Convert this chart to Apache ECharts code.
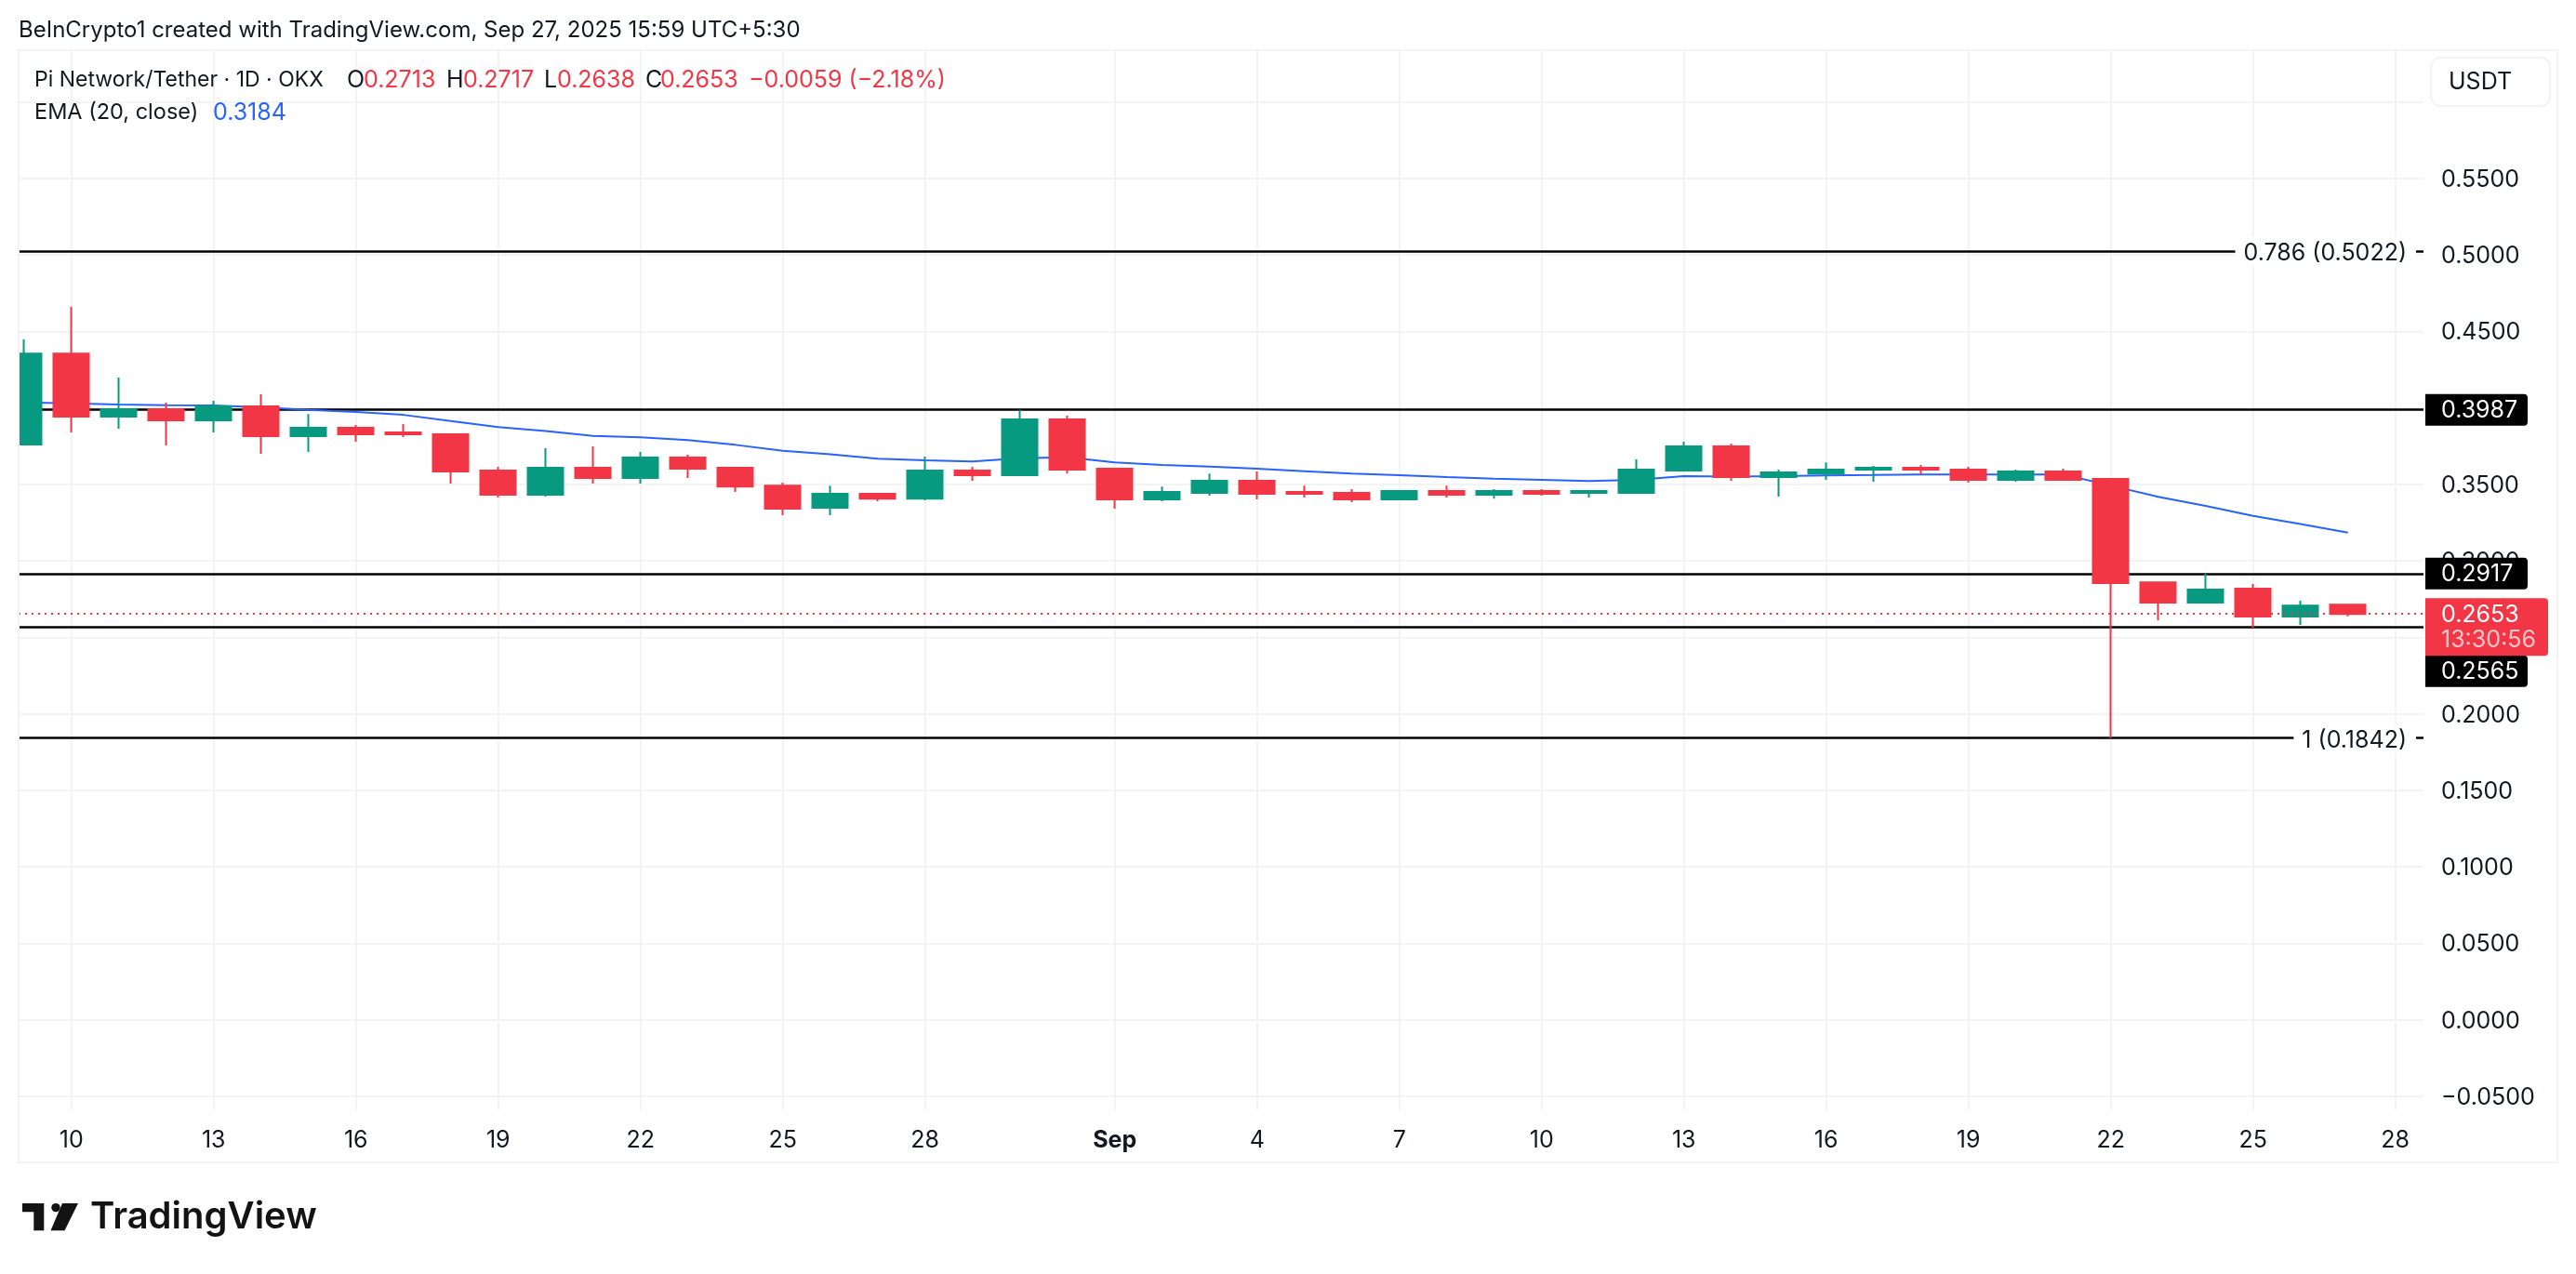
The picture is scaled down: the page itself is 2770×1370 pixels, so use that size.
<!DOCTYPE html>
<html>
<head>
<meta charset="utf-8">
<title>Pi Network/Tether</title>
<script src="https://cdn.jsdelivr.net/npm/echarts@6/dist/echarts.min.js"></script>
<style>
html,body{margin:0;padding:0;background:#fff}
#main{width:2770px;height:1370px}
</style>
</head>
<body>
<div id="main"></div>
<script>
var dates = ['2025-08-09','2025-08-10','2025-08-11','2025-08-12','2025-08-13','2025-08-14','2025-08-15','2025-08-16','2025-08-17','2025-08-18',
  '2025-08-19','2025-08-20','2025-08-21','2025-08-22','2025-08-23','2025-08-24','2025-08-25','2025-08-26','2025-08-27','2025-08-28',
  '2025-08-29','2025-08-30','2025-08-31','2025-09-01','2025-09-02','2025-09-03','2025-09-04','2025-09-05','2025-09-06','2025-09-07',
  '2025-09-08','2025-09-09','2025-09-10','2025-09-11','2025-09-12','2025-09-13','2025-09-14','2025-09-15','2025-09-16','2025-09-17',
  '2025-09-18','2025-09-19','2025-09-20','2025-09-21','2025-09-22','2025-09-23','2025-09-24','2025-09-25','2025-09-26','2025-09-27'];
var opens = [.3760,.4355,.3942,.3991,.3918,.4009,.3815,.3869,.3839,.3827,
  .3590,.3432,.3608,.3541,.3675,.3608,.3492,.3347,.3438,.3407,
  .3590,.3559,.3924,.3602,.3401,.3444,.3523,.3450,.3444,.3401,
  .3456,.3432,.3456,.3444,.3444,.3590,.3748,.3547,.3571,.3596,
  .3608,.3596,.3529,.3584,.3535,.2860,.2727,.2818,.2636,.2713];
var closes = [.4355,.3942,.3991,.3918,.4009,.3815,.3869,.3827,.3827,.3584,
  .3432,.3608,.3541,.3675,.3602,.3486,.3341,.3438,.3407,.3590,
  .3559,.3924,.3596,.3401,.3450,.3523,.3438,.3438,.3401,.3456,
  .3432,.3456,.3438,.3456,.3596,.3748,.3547,.3578,.3596,.3608,
  .3596,.3529,.3584,.3529,.2854,.2727,.2812,.2636,.2708,.2653];
var lows = [.3760,.3839,.3863,.3754,.3839,.3699,.3711,.3778,.3809,.3505,
  .3414,.3420,.3505,.3505,.3541,.3450,.3298,.3298,.3389,.3395,
  .3523,.3559,.3571,.3341,.3389,.3426,.3401,.3414,.3383,.3401,
  .3414,.3407,.3426,.3414,.3444,.3590,.3523,.3420,.3529,.3517,
  .3565,.3511,.3517,.3523,.1842,.2611,.2727,.2563,.2581,.2638];
var highs = [.4447,.4659,.4198,.4033,.4046,.4088,.3960,.3888,.3894,.3833,
  .3614,.3736,.3748,.3711,.3693,.3614,.3511,.3492,.3444,.3681,
  .3614,.3986,.3948,.3608,.3486,.3571,.3584,.3492,.3468,.3462,
  .3492,.3468,.3468,.3462,.3663,.3778,.3766,.3596,.3644,.3620,
  .3626,.3614,.3596,.3602,.3541,.2860,.2917,.2848,.2739,.2717];
var ema20 = [.4035,.4029,.4021,.4017,.4015,.4003,.3987,.3973,.3954,.3914,
  .3874,.3849,.3816,.3807,.3789,.3758,.3719,.3697,.3667,.3657,
  .3649,.3671,.3677,.3643,.3626,.3616,.3602,.3586,.3570,.3559,
  .3547,.3537,.3529,.3521,.3529,.3553,.3551,.3553,.3558,.3561,
  .3565,.3564,.3564,.3564,.3492,.3418,.3359,.3294,.3241,.3184];
var fibLabelled = [[.5022,'0.786 (0.5022)'],[.1842,'1 (0.1842)']];
var fibTagged = [.3987,.2917,.2565];
var lastPrice = .2653;
var priceTicks = [-.05,0,.05,.1,.15,.2,.25,.3,.35,.4,.45,.5,.55,.6];
var dayTicks = ['2025-08-10','2025-08-13','2025-08-16','2025-08-19','2025-08-22','2025-08-25','2025-08-28',
  '2025-09-01','2025-09-04','2025-09-07','2025-09-10','2025-09-13','2025-09-16','2025-09-19','2025-09-22','2025-09-25','2025-09-28'];

var UP = '#089981', DOWN = '#F23645', BLUE = '#2962FF', INK = '#131722', GRID = '#F3F3F4';
var FONT = 'Inter';
var DAY = 86400000;
var aug10 = Date.parse('2025-08-10');
var dayValues = dayTicks.map(function (d) { return Date.parse(d); });

var myChart = echarts.init(document.getElementById('main'));

var levelLines = fibTagged.map(function (v) {
  return { yAxis: v, label: { show: false } };
}).concat(fibLabelled.map(function (f) {
  return { yAxis: f[0], label: {
    show: true, position: 'insideEnd', distance: 8, formatter: '{a|' + f[1] + '}',
    backgroundColor: '#fff', padding: [1, 10, 1, 9],
    rich: { a: { color: INK, fontFamily: FONT, fontSize: 25, padding: [5, 0, 0, 0] } }
  } };
}));

var option = {
  animation: false,
  backgroundColor: '#fff',
  grid: { left: 20, right: 164, top: 54, bottom: 177 },
  xAxis: {
    type: 'value',
    min: aug10 - 1.112 * DAY,
    max: aug10 + 49.594 * DAY,
    axisLine: { show: false },
    axisTick: { show: false, customValues: dayValues },
    splitLine: { show: true, lineStyle: { color: GRID, width: 2 } },
    axisLabel: {
      customValues: dayValues,
      margin: 21, color: INK, fontFamily: FONT, fontSize: 25, hideOverlap: false,
      formatter: function (v) {
        var d = new Date(v).getUTCDate();
        return d === 1 ? '{b|Sep}' : String(d);
      },
      rich: { b: { fontFamily: FONT, fontSize: 25, fontWeight: 700, color: INK } }
    }
  },
  yAxis: {
    type: 'value',
    position: 'right',
    min: -.0585,
    max: .6337,
    axisLine: { show: false },
    axisTick: { show: false, customValues: priceTicks },
    splitLine: { show: true, lineStyle: { color: GRID, width: 2 } },
    axisLabel: {
      customValues: priceTicks,
      inside: false, margin: 19, align: 'left',
      formatter: function (v) {
        if (v > .58) return '';   // hidden behind the USDT button in the original
        return '{a|' + v.toFixed(4).replace('-', '\u2212') + '}';
      },
      rich: { a: { color: INK, fontFamily: FONT, fontSize: 25, padding: [3, 0, 0, 0] } }
    }
  },
  series: [
    {
      name: 'Levels', type: 'line', data: [], z: 1,
      markLine: {
        z: 1, silent: true, symbol: 'none', animation: false, precision: 4,
        lineStyle: { color: '#000', width: 2.5, type: 'solid' },
        data: levelLines
      }
    },
    {
      name: 'EMA (20, close)', type: 'line', z: 3, showSymbol: false, smooth: false,
      lineStyle: { color: BLUE, width: 2 },
      data: dates.map(function (d, i) { return [Date.parse(d), ema20[i]]; })
    },
    {
      name: 'Pi Network/Tether', type: 'candlestick', z: 4, barWidth: 38,
      itemStyle: { color: UP, color0: DOWN, borderColor: UP, borderColor0: DOWN, borderWidth: 2 },
      data: dates.map(function (d, i) { return [Date.parse(d), opens[i], closes[i], lows[i], highs[i]]; }),
      markLine: {
        z: 5, silent: true, symbol: 'none', animation: false, label: { show: false }, precision: 4,
        lineStyle: { color: DOWN, width: 2, type: [2, 5] },
        data: [{ yAxis: lastPrice }]
      }
    }
  ]
};
myChart.setOption(option);

function txt(x, y, text, color, size, weight) {
  return { type: 'text', x: x, y: y, z: 50, style: {
    text: text, fill: color, fontFamily: FONT, fontSize: size || 25, fontWeight: weight || 400,
    verticalAlign: 'middle'
  } };
}
// price tags sit on the axis at the level's own y, 0.2565 is pushed down by the last price tag
function tag(v, shift) {
  var y = myChart.convertToPixel({ yAxisIndex: 0 }, v) + (shift || 0);
  return [
    { type: 'rect', z: 60, shape: { x: 2608, y: y - 17, width: 110, height: 34, r: [0, 4, 4, 0] }, style: { fill: '#000' } },
    { type: 'text', x: 2625, y: y + 1, z: 61, style: { text: v.toFixed(4), fill: '#fff', fontFamily: FONT, fontSize: 25, verticalAlign: 'middle' } }
  ];
}
var lastY = myChart.convertToPixel({ yAxisIndex: 0 }, lastPrice);
var graphics = [
  // the first candle is cut by the pane edge, candlestick has no partial clip
  { type: 'rect', z: 10, silent: true, shape: { x: 0, y: 54, width: 19, height: 1196 }, style: { fill: '#fff' } },
  { type: 'rect', z: 11, silent: true, shape: { x: 20, y: 54, width: 2730, height: 1196 }, style: { fill: 'none', stroke: GRID, lineWidth: 2 } },
  txt(20, 33, 'BeInCrypto1 created with TradingView.com, Sep 27, 2025 15:59 UTC+5:30', INK, 24),
  txt(37, 86, 'Pi Network/Tether \u00b7 1D \u00b7 OKX', INK, 23),
  txt(373, 86, 'O', INK), txt(391, 86, '0.2713', DOWN),
  txt(480, 86, 'H', INK), txt(498, 86, '0.2717', DOWN),
  txt(585, 86, 'L', INK), txt(599, 86, '0.2638', DOWN),
  txt(694, 86, 'C', INK), txt(710, 86, '0.2653', DOWN),
  txt(805, 86, '\u22120.0059 (\u22122.18%)', DOWN),
  txt(37, 121, 'EMA (20, close)', INK, 23.5), txt(229, 121, '0.3184', BLUE),
  { type: 'rect', z: 50, shape: { x: 2614, y: 62, width: 128, height: 52, r: 10 }, style: { fill: '#fff', stroke: GRID, lineWidth: 2 } },
  txt(2633, 88, 'USDT', INK),
  { type: 'rect', z: 70, shape: { x: 2608, y: lastY - 17, width: 132, height: 62, r: [0, 4, 4, 0] }, style: { fill: DOWN } },
  { type: 'text', x: 2625, y: lastY + 1, z: 71, style: { text: '0.2653', fill: '#fff', fontFamily: FONT, fontSize: 25, verticalAlign: 'middle' } },
  { type: 'text', x: 2625, y: lastY + 28, z: 71, style: { text: '13:30:56', fill: 'rgba(255,255,255,0.72)', fontFamily: FONT, fontSize: 25, verticalAlign: 'middle' } },
  // TradingView logo
  { type: 'polygon', z: 50, shape: { points: [[24,1294],[47.3,1294],[47.3,1323.3],[36.3,1323.3],[36.3,1303.3],[24,1303.3]] }, style: { fill: '#131313' } },
  { type: 'circle', z: 50, shape: { cx: 60, cy: 1298.6, r: 4.7 }, style: { fill: '#131313' } },
  { type: 'polygon', z: 50, shape: { points: [[67,1294],[84,1294],[69.5,1323.3],[54.5,1323.3]] }, style: { fill: '#131313' } },
  txt(97, 1309, 'TradingView', '#131313', 40, 600)
];
fibTagged.forEach(function (v) {
  graphics = graphics.concat(tag(v, v === .2565 ? 47 : 0));
});
myChart.setOption({ graphic: graphics });
</script>
</body>
</html>
